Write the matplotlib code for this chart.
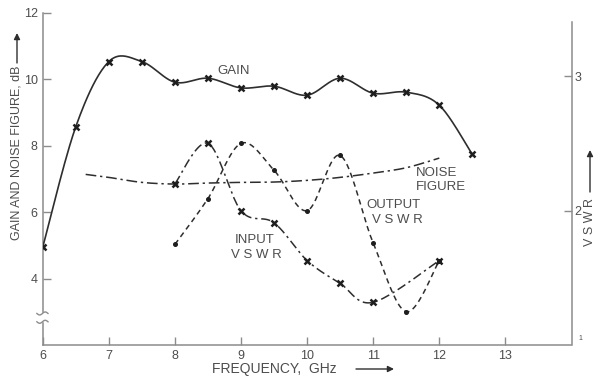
import numpy as np
import matplotlib
matplotlib.use("Agg")
import matplotlib.pyplot as plt
import matplotlib.transforms as mtransforms

plt.rcParams["font.family"] = ["Liberation Sans", "DejaVu Sans"]

# ---- measured values -------------------------------------------------
freq_gain = [6, 6.5, 7, 7.5, 8, 8.5, 9, 9.5, 10, 10.5, 11, 11.5, 12, 12.5]
gain_db = [4.95, 8.57, 10.53, 10.53, 9.91, 10.03, 9.74, 9.79, 9.52, 10.03,
           9.58, 9.61, 9.22, 7.74]

freq_nf = [6.65, 7, 7.5, 8, 8.5, 9, 9.5, 10, 10.5, 11, 11.5, 12]
nf_db = [7.14, 7.05, 6.90, 6.85, 6.88, 6.90, 6.91, 6.96, 7.05, 7.18, 7.34, 7.63]

freq_in = [8, 8.5, 9, 9.5, 10, 10.5, 11, 12]
vswr_in = [2.20, 2.50, 2.00, 1.91, 1.63, 1.46, 1.32, 1.63]

freq_out = [8, 8.5, 9, 9.5, 10, 10.5, 11, 11.5, 12]
vswr_out = [1.75, 2.09, 2.50, 2.30, 2.00, 2.41, 1.76, 1.25, 1.63]

freq_ticks = [6, 7, 8, 9, 10, 11, 12, 13]
db_ticks = [4, 6, 8, 10, 12]
vswr_ticks = [2, 3]

LINE = "#2e2e2e"
TEXT = "#4d4d4d"
SPINE = "#8c8c8c"

W, H = 600, 381


def fx(px):
    return px / W


def fy(py):
    return 1 - py / H


def smooth(x, y, n=24):
    """Catmull-Rom curve through the given points (for drawing only)."""
    p = np.column_stack([x, y]).astype(float)
    p = np.vstack([p[0], p, p[-1]])
    out = []
    t = np.linspace(0, 1, n)[:, None]
    for i in range(1, len(p) - 2):
        p0, p1, p2, p3 = p[i - 1], p[i], p[i + 1], p[i + 2]
        seg = 0.5 * (2 * p1 + (-p0 + p2) * t
                     + (2 * p0 - 5 * p1 + 4 * p2 - p3) * t ** 2
                     + (-p0 + 3 * p1 - 3 * p2 + p3) * t ** 3)
        out.append(seg if i == 1 else seg[1:])
    c = np.vstack(out)
    return c[:, 0], c[:, 1]


fig = plt.figure(figsize=(6, 3.81), dpi=100)
ax = fig.add_axes([fx(42.7), fy(345.4), (571.5 - 42.7) / W, (345.4 - 12.7) / H])
ax.set_xlim(6, 14)
ax.set_ylim(2, 12)
ax2 = ax.twinx()
ax2.set_ylim(1, 3.47)

# ---- axes frame ------------------------------------------------------
for s in ["top", "right"]:
    ax.spines[s].set_visible(False)
for s in ["top", "left", "bottom"]:
    ax2.spines[s].set_visible(False)
for sp in [ax.spines["left"], ax.spines["bottom"], ax2.spines["right"]]:
    sp.set_color(SPINE)
    sp.set_linewidth(1.1)
ax.spines["left"].set_bounds(3.0, 12)
ax2.spines["right"].set_bounds(1, 3.4)

# lower piece of the broken gain axis and the break marks
ax.plot([6, 6], [2, 2.68], color=SPINE, lw=1.1, clip_on=False)
brk = mtransforms.blended_transform_factory(ax.transAxes, ax.transData)
tt = np.linspace(-1, 1, 30)
for y0 in (2.96, 2.71):
    ax.plot(-0.0005 + 0.0105 * tt, y0 + 0.045 * np.sin(np.pi * tt),
            transform=brk, color=SPINE, lw=1.0, clip_on=False)

ax.set_xticks(freq_ticks)
ax.set_xticklabels([str(v) for v in freq_ticks])
ax.set_yticks(db_ticks)
ax.set_yticklabels([str(v) for v in db_ticks])
ax.tick_params(direction="in", length=6, width=1, color=SPINE,
               labelcolor=TEXT, labelsize=9, pad=3.5)
ax2.set_yticks(vswr_ticks)
ax2.set_yticklabels([str(v) for v in vswr_ticks])
ax2.tick_params(direction="in", length=6, width=1, color=SPINE,
                labelcolor=TEXT, labelsize=9, pad=2)
fig.text(fx(580), fy(339), "1", fontsize=5, color=TEXT, ha="center", va="center")

# ---- curves ----------------------------------------------------------
gx, gy = smooth(freq_gain, gain_db)
ax.plot(gx, gy, color=LINE, lw=1.2, zorder=3)
ax.plot(freq_gain, gain_db, ls="none", marker="x", ms=5, mew=1.8,
        color="#1e1e1e", zorder=4)

nx, ny = smooth(freq_nf, nf_db)
ax.plot(nx, ny, color=LINE, lw=1.1, ls=(0, (7, 2.5, 1.5, 2.5)), zorder=3)

ix, iy = smooth(freq_in, vswr_in)
ax2.plot(ix, iy, color=LINE, lw=1.1, ls=(0, (6, 2.5, 1.5, 2.5)), zorder=3)
ax2.plot(freq_in, vswr_in, ls="none", marker="x", ms=5, mew=1.8,
         color="#1e1e1e", zorder=4)

ox, oy = smooth(freq_out, vswr_out)
ax2.plot(ox, oy, color=LINE, lw=1.1, ls=(0, (3.5, 2.6)), zorder=3)
ax2.plot(freq_out, vswr_out, ls="none", marker="o", ms=2.6,
         color="#1e1e1e", zorder=4)

# ---- curve labels ----------------------------------------------------
lab = dict(color=TEXT, fontsize=9.5)
ax.text(8.89, 10.25, "GAIN", ha="center", va="center", **lab)
ax.text(11.65, 7.19, "NOISE", ha="left", va="center", **lab)
ax.text(11.65, 6.75, "FIGURE", ha="left", va="center", **lab)
ax.text(11.30, 6.21, "OUTPUT", ha="center", va="center", **lab)
ax.text(11.37, 5.78, "V S W R", ha="center", va="center", **lab)
ax.text(9.21, 5.18, "INPUT", ha="center", va="center", **lab)
ax.text(9.23, 4.71, "V S W R", ha="center", va="center", **lab)

# ---- axis titles with arrows -----------------------------------------
arrow = dict(arrowstyle="-|>", color=LINE, lw=1.0, mutation_scale=9,
             shrinkA=0, shrinkB=0)
fig.text(fx(274.5), fy(369), "FREQUENCY,  GHz", fontsize=10, color=TEXT,
         ha="center", va="center")
ax.annotate("", xy=(fx(394), fy(369)), xytext=(fx(356), fy(369)),
            xycoords="figure fraction", textcoords="figure fraction",
            arrowprops=arrow, annotation_clip=False)

fig.text(fx(17), fy(153), "GAIN AND NOISE FIGURE, dB", fontsize=9,
         color=TEXT, ha="center", va="center", rotation=90)
ax.annotate("", xy=(fx(17), fy(33)), xytext=(fx(17), fy(63)),
            xycoords="figure fraction", textcoords="figure fraction",
            arrowprops=arrow, annotation_clip=False)

fig.text(fx(590), fy(222), "V S W R", fontsize=9, color=TEXT,
         ha="center", va="center", rotation=90)
ax.annotate("", xy=(fx(590), fy(150)), xytext=(fx(590), fy(192)),
            xycoords="figure fraction", textcoords="figure fraction",
            arrowprops=arrow, annotation_clip=False)

fig.savefig("out.png", dpi=100, facecolor="white")
